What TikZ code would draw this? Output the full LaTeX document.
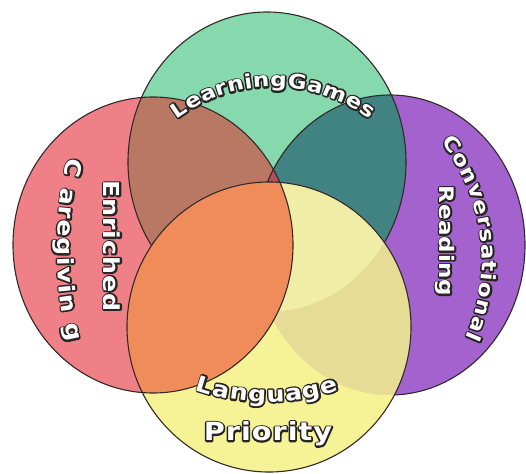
\documentclass[tikz,border=0pt]{standalone}
\usepackage{fontspec}
\usetikzlibrary{decorations.text}
\newfontfamily\lblfont{DejaVu Sans}[FakeStretch=1.15,LetterSpace=4]
\definecolor{cR}{RGB}{240,128,136}
\definecolor{cG}{RGB}{133,217,172}
\definecolor{cP}{RGB}{163,98,206}
\definecolor{cY}{RGB}{246,243,150}
\definecolor{cRG}{RGB}{185,120,100}
\definecolor{cGP}{RGB}{65,130,130}
\definecolor{cRGP}{RGB}{176,80,88}
\definecolor{cYR}{RGB}{240,140,90}
\definecolor{cYG}{RGB}{240,238,166}
\definecolor{cYP}{RGB}{230,220,150}
\definecolor{cLine}{RGB}{50,40,40}
\definecolor{cTxtLine}{RGB}{40,36,36}
% back pass: dark, filled and stroked thick (outline outside the glyph)
\newcommand\lblB[1]{\lblfont\bfseries\fontsize{#1}{#1}\selectfont\color{cTxtLine}\special{pdf:literal direct 1.6 w 1 j 2 Tr}}
% front pass: white fill only
\newcommand\lblF[1]{\lblfont\bfseries\fontsize{#1}{#1}\selectfont\color{white}\special{pdf:literal direct 0 Tr}}
\newcommand\otxt[2]{\makebox[0pt][l]{\lblB{#1}#2}{\lblF{#1}#2}}
\newcommand\curvetext[3]{%
  \path[decorate, decoration={text along path, text={|\lblB{#1}|#2}, text align=fit to path}] #3;
  \path[decorate, decoration={text along path, text={|\lblF{#1}|#2}, text align=fit to path}] #3;}
\begin{document}
\begin{tikzpicture}[x=0.5pt,y=0.5pt,
  outl/.style={draw=cLine, line width=0.55pt},
  lblnode/.style={inner sep=0pt}]
\useasboundingbox (0,0) rectangle (526,473);
\fill[white] (0,0) rectangle (526,473);
% base fills
\fill[cR] (153,228) ellipse [x radius=140, y radius=148];
\fill[cP] (390,228) ellipse [x radius=135, y radius=150];
\fill[cG] (267,311) ellipse [x radius=139, y radius=150];
% red & green
\begin{scope}
  \clip (153,228) ellipse [x radius=140, y radius=148];
  \fill[cRG] (267,311) ellipse [x radius=139, y radius=150];
\end{scope}
% green & purple
\begin{scope}
  \clip (267,311) ellipse [x radius=139, y radius=150];
  \fill[cGP] (390,228) ellipse [x radius=135, y radius=150];
\end{scope}
% red & green & purple
\begin{scope}
  \clip (153,228) ellipse [x radius=140, y radius=148];
  \clip (267,311) ellipse [x radius=139, y radius=150];
  \fill[cRGP] (390,228) ellipse [x radius=135, y radius=150];
\end{scope}
% outlines of red, purple, green
\draw[outl] (153,228) ellipse [x radius=140, y radius=148];
\draw[outl] (390,228) ellipse [x radius=135, y radius=150];
\draw[outl] (267,311) ellipse [x radius=139, y radius=150];
% yellow on top
\fill[cY] (269,146) ellipse [x radius=142, y radius=145];
\begin{scope}
  \clip (269,146) ellipse [x radius=142, y radius=145];
  \fill[cYP] (390,228) ellipse [x radius=135, y radius=150];
  \fill[cYG] (267,311) ellipse [x radius=139, y radius=150];
  \fill[cYR] (153,228) ellipse [x radius=140, y radius=148];
  \draw[outl] (153,228) ellipse [x radius=140, y radius=148];
\end{scope}
\draw[outl] (269,146) ellipse [x radius=142, y radius=145];
% curved labels
\curvetext{10}{LearningGames}{(273,226) ++(127:160) arc [start angle=127, end angle=53, radius=160]}
\curvetext{11}{Language}{(267,291) ++(250.9:220) arc [start angle=250.9, end angle=289.1, radius=220]}
\curvetext{11}{C aregivin g}{(457,223) ++(166.6:400) arc [start angle=166.6, end angle=193.4, radius=400]}
\curvetext{10}{Conversational}{(292,213) ++(38.4:190) arc [start angle=38.4, end angle=-24.2, radius=190]}
% straight labels
\node[lblnode, rotate=-90] (enr) at (112,227) {\otxt{11}{Enriched}};
\node[lblnode, rotate=-90] (rdg) at (445,232) {\otxt{10}{Reading}};
\node[lblnode] (pri) at (268,39) {\otxt{12.5}{Priority}};
\end{tikzpicture}
\end{document}
